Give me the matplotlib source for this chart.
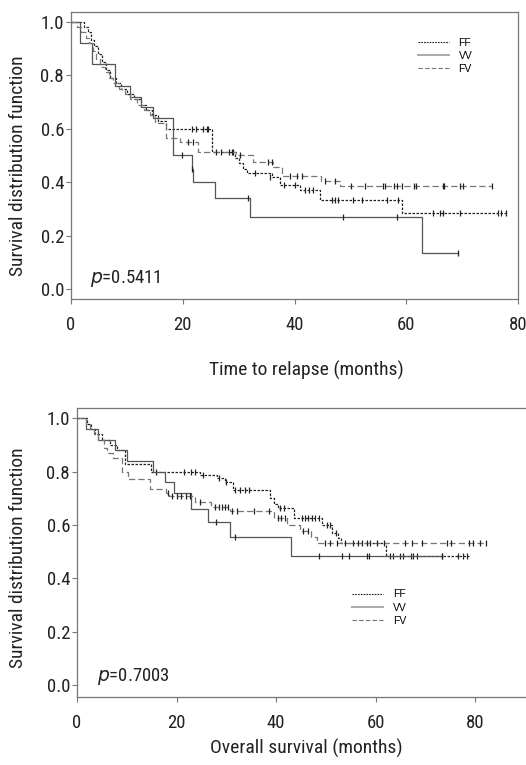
import matplotlib
matplotlib.use("Agg")
import matplotlib.pyplot as plt
from matplotlib.lines import Line2D

plt.rcParams['font.family'] = ['Roboto Condensed', 'DejaVu Sans']

groups = ["FF", "VV", "FV"]

# ---------------- Top panel: time to relapse ----------------
rel_ff_t = [0, 2.3, 3.0, 3.6, 4.2, 4.8, 5.5, 6.2, 7.0, 8.0, 9.0, 10.0, 11.2, 12.5, 13.5, 14.5, 15.5, 17.0,
            25.2, 29.4, 30.0, 30.8, 31.5, 35.9, 37.4, 41.0, 44.6, 59.2]
rel_ff_s = [1.0, 0.98, 0.96, 0.93, 0.91, 0.88, 0.85, 0.82, 0.79, 0.77, 0.75, 0.73, 0.71, 0.69, 0.67, 0.65, 0.63, 0.60,
            0.514, 0.49, 0.47, 0.45, 0.435, 0.418, 0.389, 0.37, 0.333, 0.283]
rel_ff_end = 77.9
rel_ff_ct = [21.6, 22.4, 23.6, 24.3, 24.6, 26.8, 29.0, 33.0, 35.6, 38.1, 40.0, 41.9, 42.6, 43.3,
             46.7, 47.2, 47.8, 50.5, 52.0, 56.5, 58.6, 64.7, 66.0, 66.6, 69.7, 76.5, 76.9, 77.9]
rel_ff_cs = [0.60, 0.60, 0.60, 0.60, 0.60, 0.514, 0.514, 0.435, 0.418, 0.389, 0.389, 0.37, 0.37, 0.37,
             0.333, 0.333, 0.333, 0.333, 0.333, 0.333, 0.333, 0.283, 0.283, 0.283, 0.283, 0.283, 0.283, 0.283]

rel_vv_t = [0, 1.6, 3.8, 7.9, 10.6, 12.6, 14.7, 18.3, 21.6, 21.9, 25.8, 32.0, 62.9]
rel_vv_s = [1.0, 0.92, 0.84, 0.76, 0.72, 0.68, 0.64, 0.50, 0.45, 0.40, 0.34, 0.27, 0.136]
rel_vv_end = 69.3
rel_vv_ct = [19.8, 21.7, 31.6, 48.6, 58.3, 69.3]
rel_vv_cs = [0.50, 0.45, 0.34, 0.27, 0.27, 0.136]

rel_fv_t = [0, 1.0, 1.8, 2.6, 3.2, 3.9, 4.5, 5.2, 6.0, 6.8, 7.6, 8.6, 9.6, 10.6, 11.8, 13.0, 14.2, 15.0,
            17.0, 19.5, 22.8, 29.6, 32.6, 36.2, 37.7, 44.7, 48.1]
rel_fv_s = [1.0, 0.98, 0.96, 0.94, 0.92, 0.89, 0.86, 0.83, 0.81, 0.79, 0.77, 0.75, 0.73, 0.71, 0.69, 0.67, 0.65, 0.62,
            0.566, 0.55, 0.514, 0.50, 0.476, 0.455, 0.423, 0.405, 0.385]
rel_fv_end = 75.4
rel_fv_ct = [21.0, 21.9, 26.0, 28.3, 28.8, 30.3, 35.3, 35.9, 39.2, 40.4, 41.3, 45.5, 47.3,
             50.2, 52.7, 55.9, 56.2, 57.8, 58.3, 59.2, 61.4, 61.7, 66.5, 66.8, 69.6, 70.1, 75.4]
rel_fv_cs = [0.55, 0.55, 0.514, 0.514, 0.514, 0.50, 0.476, 0.476, 0.423, 0.423, 0.423, 0.405, 0.405,
             0.385, 0.385, 0.385, 0.385, 0.385, 0.385, 0.385, 0.385, 0.385, 0.385, 0.385, 0.385, 0.385, 0.385]

# ---------------- Bottom panel: overall survival ----------------
os_ff_t = [0, 2.0, 2.8, 3.6, 5.0, 6.7, 8.0, 9.7, 14.8, 24.7, 28.1, 29.8, 31.4, 38.8, 39.6, 40.3, 43.5,
           49.2, 51.2, 52.5, 53.0, 62.1]
os_ff_s = [1.0, 0.98, 0.96, 0.94, 0.92, 0.90, 0.88, 0.83, 0.80, 0.786, 0.775, 0.76, 0.731, 0.70, 0.68, 0.665, 0.625,
           0.598, 0.569, 0.55, 0.531, 0.484]
os_ff_end = 78.7
os_ff_ct = [15.9, 21.4, 23.0, 23.7, 25.4, 28.6, 29.9, 31.8, 32.8, 33.8, 34.5, 40.8, 41.5,
            45.1, 45.8, 46.5, 47.2, 47.9, 48.6, 50.2, 50.8, 52.0, 62.8, 63.5, 64.8, 65.4, 67.0, 67.6, 68.3,
            73.3, 76.6, 77.6, 78.3]
os_ff_cs = [0.80, 0.80, 0.80, 0.80, 0.786, 0.775, 0.76, 0.731, 0.731, 0.731, 0.731, 0.665, 0.665,
            0.625, 0.625, 0.625, 0.625, 0.625, 0.625, 0.598, 0.598, 0.569, 0.484, 0.484, 0.484, 0.484, 0.484,
            0.484, 0.484, 0.484, 0.484, 0.484, 0.484]

os_vv_t = [0, 1.9, 4.3, 7.6, 10.0, 15.3, 17.6, 19.4, 23.0, 26.4, 30.8, 42.9]
os_vv_s = [1.0, 0.96, 0.92, 0.88, 0.84, 0.80, 0.76, 0.72, 0.66, 0.61, 0.555, 0.484]
os_vv_end = 73.3
os_vv_ct = [28.0, 31.8, 48.6, 53.2, 54.7, 58.2, 58.6, 73.3]
os_vv_cs = [0.61, 0.555, 0.484, 0.484, 0.484, 0.484, 0.484, 0.484]

os_fv_t = [0, 1.8, 2.6, 3.4, 4.3, 5.4, 6.0, 7.3, 9.0, 10.3, 14.7, 17.9, 18.5, 23.8, 27.0, 30.8, 39.5,
           42.1, 44.8, 47.0, 48.3]
os_fv_s = [1.0, 0.98, 0.96, 0.94, 0.92, 0.89, 0.87, 0.85, 0.80, 0.774, 0.734, 0.719, 0.708, 0.685, 0.667, 0.654,
           0.625, 0.598, 0.577, 0.555, 0.531]
os_fv_end = 82.2
os_fv_ct = [18.2, 19.0, 20.0, 20.8, 21.8, 22.6, 24.7, 27.8, 28.5, 29.1, 29.8, 30.4, 31.2, 32.2, 35.5, 38.5,
            40.4, 41.0, 41.7, 45.5, 46.5, 49.8, 50.9, 52.2, 53.9, 55.5, 56.5, 57.2, 58.2, 58.9, 60.2, 61.6,
            65.9, 67.3, 69.3, 74.3, 75.1, 78.7, 79.5, 81.0, 82.2]
os_fv_cs = [0.719, 0.708, 0.708, 0.708, 0.708, 0.708, 0.685, 0.667, 0.667, 0.667, 0.667, 0.667, 0.654, 0.654,
            0.654, 0.654, 0.625, 0.625, 0.625, 0.577, 0.577] + [0.531] * 20

y_ticks = [0.0, 0.2, 0.4, 0.6, 0.8, 1.0]
y_ticklabels = ["0.0", "0.2", "0.4", "0.6", "0.8", "1.0"]
x_ticks = [0, 20, 40, 60, 80]

styles = {
    "FF": dict(color="#222222", linestyle=(0, (2.0, 1.2)), linewidth=0.9),
    "VV": dict(color="#555555", linestyle="-", linewidth=0.9),
    "FV": dict(color="#777777", linestyle=(0, (5, 2.5)), linewidth=0.9),
}
leg_styles = {
    "FF": dict(color="#222222", linestyle=(0, (1.5, 1.0)), linewidth=0.8),
    "VV": dict(color="#aaaaaa", linestyle="-", linewidth=1.4),
    "FV": dict(color="#777777", linestyle=(0, (4, 2)), linewidth=0.8),
}

fig = plt.figure(figsize=(5.26, 7.65), dpi=100)
ax1 = fig.add_axes([0.135, 0.6092, 0.8498, 0.3747])
ax2 = fig.add_axes([0.1464, 0.0893, 0.8517, 0.3770])

FS = 13.5
LFS = 14


def draw_km(ax, t, s, end, ct, cs, name):
    ax.step(list(t) + [end], list(s) + [s[-1]], where="post", **styles[name])
    ax.plot(ct, cs, linestyle="none", marker="|", markersize=4.8, markeredgewidth=0.9, color="#222222")


def style_axes(ax, xmax, ylo, yhi):
    ax.set_xlim(0, xmax)
    ax.set_ylim(ylo, yhi)
    ax.set_yticks(y_ticks)
    ax.set_yticklabels(y_ticklabels)
    ax.set_xticks(x_ticks)
    for sp in ax.spines.values():
        sp.set_color("#777777")
        sp.set_linewidth(0.9)
    ax.tick_params(axis="both", direction="out", length=3.5, width=0.8, color="#777777",
                   labelsize=FS, labelcolor="#222222")
    ax.tick_params(axis="y", pad=1.5)
    ax.tick_params(axis="x", pad=9)


# top
draw_km(ax1, rel_ff_t, rel_ff_s, rel_ff_end, rel_ff_ct, rel_ff_cs, "FF")
draw_km(ax1, rel_vv_t, rel_vv_s, rel_vv_end, rel_vv_ct, rel_vv_cs, "VV")
draw_km(ax1, rel_fv_t, rel_fv_s, rel_fv_end, rel_fv_ct, rel_fv_cs, "FV")
style_axes(ax1, 80, -0.037, 1.035)
ax1.set_xlabel("Time to relapse (months)", fontsize=LFS, color="#222222")
ax1.set_ylabel("Survival distribution function", fontsize=LFS, color="#222222")
ax1.xaxis.set_label_coords(0.526, -0.215)
ax1.yaxis.set_label_coords(-0.098, 0.464)
ax1.text(3.4, 0.04, r"$\it{p}$=0.5411", fontsize=FS, va="center", ha="left", color="#222222")

# bottom
draw_km(ax2, os_ff_t, os_ff_s, os_ff_end, os_ff_ct, os_ff_cs, "FF")
draw_km(ax2, os_vv_t, os_vv_s, os_vv_end, os_vv_ct, os_vv_cs, "VV")
draw_km(ax2, os_fv_t, os_fv_s, os_fv_end, os_fv_ct, os_fv_cs, "FV")
style_axes(ax2, 90, -0.044, 1.0375)
ax2.spines["right"].set_visible(False)
ax2.set_xlabel("Overall survival (months)", fontsize=LFS, color="#222222")
ax2.set_ylabel("Survival distribution function", fontsize=LFS, color="#222222")
ax2.xaxis.set_label_coords(0.511, -0.145)
ax2.yaxis.set_label_coords(-0.112, 0.481)
ax2.text(4.0, 0.03, r"$\it{p}$=0.7003", fontsize=FS, va="center", ha="left", color="#222222")

handles = [Line2D([0], [0], **leg_styles[g]) for g in groups]
for ax, anchor in ((ax1, (0.776, 0.912)), (ax2, (0.614, 0.372))):
    ax.legend(handles, groups, loc="upper left", bbox_to_anchor=anchor, frameon=False,
              prop={"family": ["Liberation Sans", "DejaVu Sans"], "size": 7.5},
              handlelength=3.0, handletextpad=0.9, labelspacing=0.3,
              borderpad=0, borderaxespad=0)

fig.savefig("out.png", dpi=100)
